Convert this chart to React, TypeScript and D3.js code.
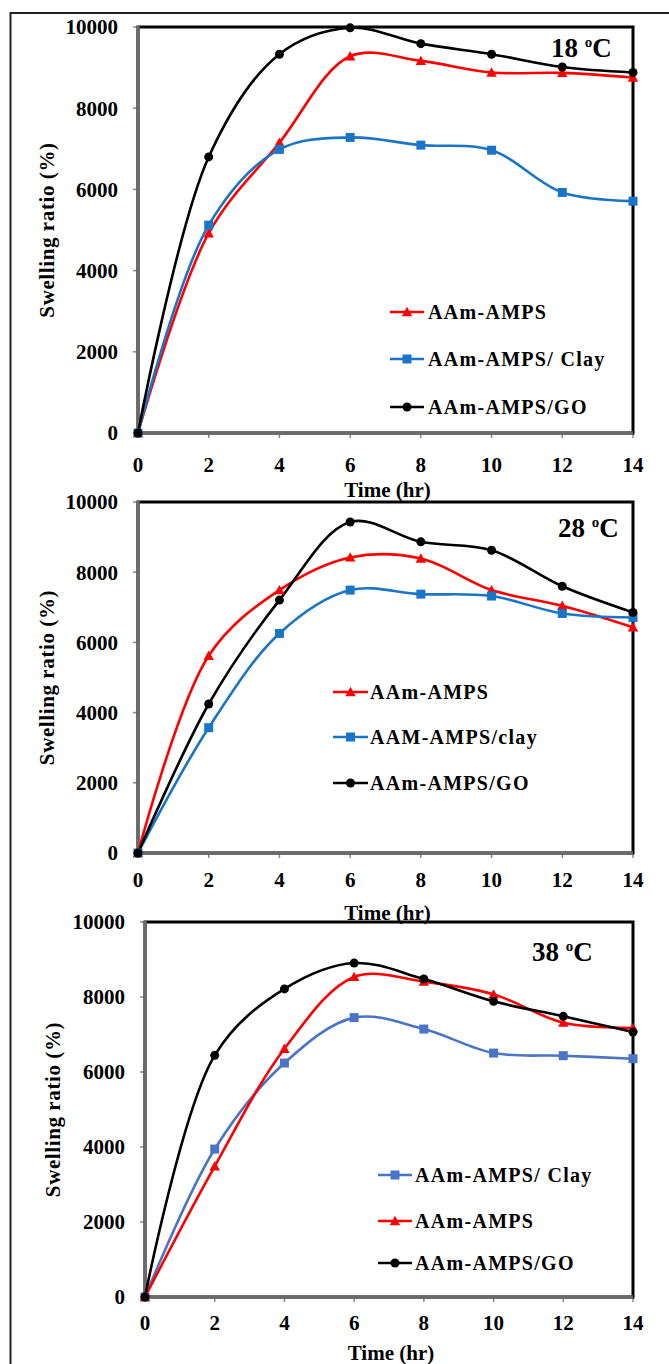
import React from "react";
import * as d3 from "d3";

const hours = [0, 2, 4, 6, 8, 10, 12, 14];
const yTicks = [0, 2000, 4000, 6000, 8000, 10000];

// 18 °C
const p18_amps = [0, 4920, 7150, 9280, 9165, 8880, 8870, 8755];
const p18_clay = [0, 5120, 6985, 7280, 7090, 6965, 5925, 5710];
const p18_go = [0, 6800, 9330, 9980, 9590, 9330, 9015, 8880];

// 28 °C
const p28_amps = [0, 5620, 7490, 8420, 8390, 7490, 7045, 6430];
const p28_clay = [0, 3570, 6255, 7490, 7375, 7320, 6825, 6710];
const p28_go = [0, 4245, 7205, 9430, 8865, 8625, 7600, 6855];

// 38 °C
const p38_clay = [0, 3945, 6240, 7450, 7145, 6505, 6435, 6355];
const p38_amps = [0, 3485, 6620, 8535, 8410, 8070, 7315, 7175];
const p38_go = [0, 6445, 8215, 8905, 8480, 7885, 7485, 7065];

type Series = { name: string; values: number[]; color: string; marker: "tri" | "sq" | "circ" };

type Panel = {
  temp: string;
  x0: number; x1: number; yTop: number; yBot: number;
  tickY: number; titleY: number; ylabX: number;
  tempX: number; tempY: number;
  legLine0: number; legLine1: number; legText: number; legRows: number[];
  series: Series[];
};

const RED = "#ff0000";
const BLUE = "#1b75c6";
const BLUE2 = "#4a74c4";
const BLACK = "#000000";

const panels: Panel[] = [
  {
    temp: "18", x0: 138, x1: 633, yTop: 27, yBot: 433, tickY: 465, titleY: 490, ylabX: 47,
    tempX: 551, tempY: 48, legLine0: 390, legLine1: 424, legText: 428, legRows: [312, 359, 407],
    series: [
      { name: "AAm-AMPS", values: p18_amps, color: RED, marker: "tri" },
      { name: "AAm-AMPS/ Clay", values: p18_clay, color: BLUE, marker: "sq" },
      { name: "AAm-AMPS/GO", values: p18_go, color: BLACK, marker: "circ" },
    ],
  },
  {
    temp: "28", x0: 138, x1: 633, yTop: 502, yBot: 853, tickY: 880, titleY: 913, ylabX: 47,
    tempX: 558, tempY: 528, legLine0: 333, legLine1: 368, legText: 370, legRows: [692, 737, 783],
    series: [
      { name: "AAm-AMPS", values: p28_amps, color: RED, marker: "tri" },
      { name: "AAM-AMPS/clay", values: p28_clay, color: BLUE, marker: "sq" },
      { name: "AAm-AMPS/GO", values: p28_go, color: BLACK, marker: "circ" },
    ],
  },
  {
    temp: "38", x0: 145, x1: 633, yTop: 922, yBot: 1297, tickY: 1323, titleY: 1353, ylabX: 53,
    tempX: 532, tempY: 952, legLine0: 378, legLine1: 412, legText: 415, legRows: [1175, 1221, 1263],
    series: [
      { name: "AAm-AMPS/ Clay", values: p38_clay, color: BLUE2, marker: "sq" },
      { name: "AAm-AMPS", values: p38_amps, color: RED, marker: "tri" },
      { name: "AAm-AMPS/GO", values: p38_go, color: BLACK, marker: "circ" },
    ],
  },
];

const FONT = "Liberation Serif";

function Marker({ kind, x, y, color }: { kind: string; x: number; y: number; color: string }) {
  if (kind === "tri") {
    const s = 5.2;
    return <path d={`M${x},${y - s}L${x + s},${y + s * 0.8}L${x - s},${y + s * 0.8}Z`} fill={color} />;
  }
  if (kind === "sq") {
    return <rect x={x - 4.5} y={y - 4.5} width={9} height={9} fill={color} />;
  }
  return <circle cx={x} cy={y} r={4.5} fill={color} />;
}

const txt = { fontFamily: FONT, fontWeight: 700 } as React.CSSProperties;

function PanelChart({ p }: { p: Panel }) {
  const x = d3.scaleLinear().domain([0, 14]).range([p.x0, p.x1]);
  const y = d3.scaleLinear().domain([0, 10000]).range([p.yBot, p.yTop]);
  const line = d3
    .line<number>()
    .x((_, i) => x(hours[i]))
    .y((d) => y(d))
    .curve(d3.curveCatmullRom.alpha(0.5));
  const midY = (p.yTop + p.yBot) / 2;
  return (
    <g>
      {yTicks.map((t) => (
        <g key={"y" + t}>
          <line x1={p.x0 - 5} x2={p.x0} y1={y(t)} y2={y(t)} stroke="#888" strokeWidth={1.5} />
          <text x={p.x0 - 20} y={y(t)} dy="0.35em" textAnchor="end" fontSize={21} style={txt}>
            {t}
          </text>
        </g>
      ))}
      {hours.map((h) => (
        <g key={"x" + h}>
          <line x1={x(h)} x2={x(h)} y1={p.yBot} y2={p.yBot + 5} stroke="#888" strokeWidth={1.5} />
          <text x={x(h)} y={p.tickY} dy="0.35em" textAnchor="middle" fontSize={21} style={txt}>
            {h}
          </text>
        </g>
      ))}
      <rect x={p.x0} y={p.yTop} width={p.x1 - p.x0} height={p.yBot - p.yTop} fill="none" stroke="#000" strokeWidth={3} />
      <line x1={p.x0} x2={p.x0} y1={p.yTop - 1} y2={p.yBot} stroke="#6a6a6a" strokeWidth={3.5} />
      <line x1={p.x0} x2={p.x1} y1={p.yBot} y2={p.yBot} stroke="#6a6a6a" strokeWidth={3.5} />
      {p.series.map((s) => (
        <path key={"l" + s.name} d={line(s.values) || ""} fill="none" stroke={s.color} strokeWidth={2.6} />
      ))}
      {p.series.map((s) =>
        s.values.map((v, i) => <Marker key={s.name + i} kind={s.marker} x={x(hours[i])} y={y(v)} color={s.color} />)
      )}
      {p.series.map((s, i) => (
        <g key={"lg" + s.name}>
          <line x1={p.legLine0} x2={p.legLine1} y1={p.legRows[i]} y2={p.legRows[i]} stroke={s.color} strokeWidth={2.6} />
          <Marker kind={s.marker} x={(p.legLine0 + p.legLine1) / 2} y={p.legRows[i]} color={s.color} />
          <text x={p.legText} y={p.legRows[i]} dy="0.35em" fontSize={20} letterSpacing={1.3} style={txt}>
            {s.name}
          </text>
        </g>
      ))}
      <text x={p.tempX} y={p.tempY} dy="0.35em" fontSize={27} style={txt}>
        {p.temp + " "}
        <tspan fontSize={15} dy={-10}>o</tspan>
        <tspan dy={10}>C</tspan>
      </text>
      <text x={(p.x0 + p.x1) / 2 + 2} y={p.titleY} dy="0.35em" textAnchor="middle" fontSize={21} style={txt}>
        Time (hr)
      </text>
      <text
        transform={`translate(${p.ylabX},${midY}) rotate(-90)`}
        textAnchor="middle"
        dy="0.35em"
        fontSize={21}
        letterSpacing={0.6}
        style={txt}
      >
        Swelling ratio (%)
      </text>
    </g>
  );
}

export default function App() {
  return (
    <svg width={669} height={1364} style={{ position: "absolute", left: 0, top: 0, background: "#fff" }}>
      <rect x={0} y={0} width={669} height={1364} fill="#fff" />
      <rect x={10.5} y={13} width={700} height={1400} fill="none" stroke="#222" strokeWidth={2} />
      {panels.map((p) => (
        <PanelChart key={p.temp} p={p} />
      ))}
    </svg>
  );
}
